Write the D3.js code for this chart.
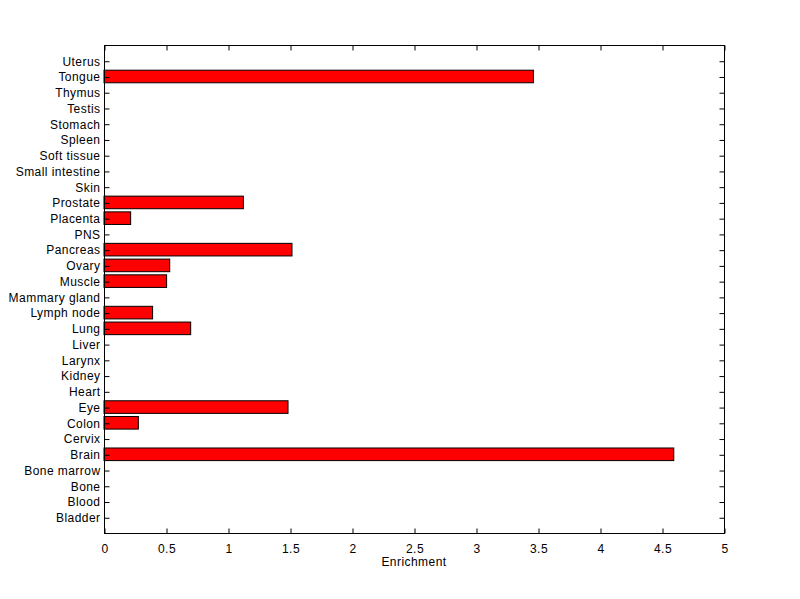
<!DOCTYPE html>
<html><head><meta charset="utf-8">
<script src="https://cdn.jsdelivr.net/npm/d3@7"></script>
<style>body{margin:0;background:#fff;}svg{display:block;}text{font-family:"Liberation Sans",Arial,sans-serif;font-size:12px;letter-spacing:0.45px;fill:#000;}</style>
</head><body>
<script>
const categories = ["Bladder","Blood","Bone","Bone marrow","Brain","Cervix","Colon","Eye","Heart","Kidney","Larynx","Liver","Lung","Lymph node","Mammary gland","Muscle","Ovary","Pancreas","PNS","Placenta","Prostate","Skin","Small intestine","Soft tissue","Spleen","Stomach","Testis","Thymus","Tongue","Uterus"];
const values = [0,0,0,0,4.595,0,0.277,1.484,0,0,0,0,0.699,0.392,0,0.505,0.53,1.516,0,0.215,1.124,0,0,0,0,0,0,0,3.463,0];
const xTicks = [0,0.5,1,1.5,2,2.5,3,3.5,4,4.5,5];
const xLabel = "Enrichment";

const W=800,H=599, L=104, R=724, T=45, B=533;
const svg=d3.select("body").append("svg").attr("width",W).attr("height",H);
const x=d3.scaleLinear().domain([0,5]).range([L,R]);
const y=d3.scaleLinear().domain([0,categories.length+1]).range([B,T]);
const bw = Math.abs(y(0.8)-y(0));

svg.append("g").selectAll("rect").data(values.map((v,i)=>({v,i}))).join("rect")
  .filter(d=>d.v>0)
  .attr("x",x(0)).attr("y",d=>y(d.i+1)-bw/2).attr("width",d=>x(d.v)-x(0)).attr("height",bw)
  .attr("fill","#ff0000").attr("stroke","#000").attr("stroke-width",1);

// box
svg.append("rect").attr("x",L+0.5).attr("y",T+0.5).attr("width",R-L).attr("height",B-T)
  .attr("fill","none").attr("stroke","#000");

const tl=5;
const xa=d3.axisBottom(x).tickValues(xTicks).tickFormat(d=>d).tickSizeInner(-tl).tickSizeOuter(0).tickPadding(10.5);
const gx=svg.append("g").attr("transform",`translate(0.5,${B+0.5})`).call(xa);
gx.select(".domain").remove();
const xt=d3.axisTop(x).tickValues(xTicks).tickFormat("").tickSizeInner(-tl).tickSizeOuter(0);
const gxt=svg.append("g").attr("transform",`translate(0.5,${T+0.5})`).call(xt);
gxt.select(".domain").remove();

const yv=categories.map((c,i)=>i+1);
const ya=d3.axisLeft(y).tickValues(yv).tickFormat((d)=>categories[d-1]).tickSizeInner(-tl).tickSizeOuter(0).tickPadding(4);
const gy=svg.append("g").attr("transform",`translate(${L+0.5},0.5)`).call(ya);
gy.select(".domain").remove();
const yr=d3.axisRight(y).tickValues(yv).tickFormat("").tickSizeInner(-tl).tickSizeOuter(0);
const gyr=svg.append("g").attr("transform",`translate(${R+0.5},0.5)`).call(yr);
gyr.select(".domain").remove();

svg.selectAll(".tick text").style("font-family","'Liberation Sans',Arial,sans-serif").style("font-size","12px").style("letter-spacing","0.45px").attr("fill","#000");
svg.selectAll(".tick line").attr("stroke","#000");

svg.append("text").attr("x",(L+R)/2).attr("y",566).attr("text-anchor","middle").text(xLabel);
</script>
</body></html>
